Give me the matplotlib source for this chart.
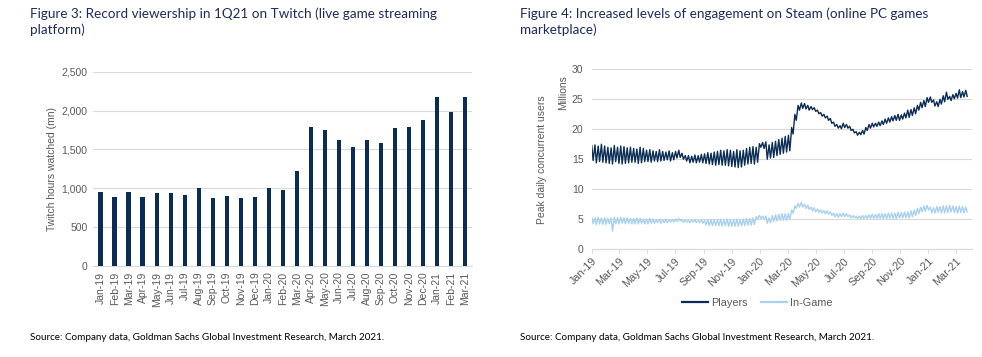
import matplotlib
matplotlib.use('Agg')
import matplotlib.pyplot as plt
import matplotlib.dates as mdates
import numpy as np
import pandas as pd


# Figure 3: Twitch hours watched (mn), monthly
months = ['Jan-19', 'Feb-19', 'Mar-19', 'Apr-19', 'May-19', 'Jun-19', 'Jul-19', 'Aug-19', 'Sep-19',
          'Oct-19', 'Nov-19', 'Dec-19', 'Jan-20', 'Feb-20', 'Mar-20', 'Apr-20', 'May-20', 'Jun-20',
          'Jul-20', 'Aug-20', 'Sep-20', 'Oct-20', 'Nov-20', 'Dec-20', 'Jan-21', 'Feb-21', 'Mar-21']
hours = [948, 883, 948, 892, 935, 935, 913, 999, 879, 900, 879, 883, 1008, 982, 1218,
         1788, 1754, 1625, 1527, 1617, 1582, 1771, 1788, 1874, 2170, 1977, 2178]

# Figure 4: Steam peak concurrent users (millions), weekly high / low
week_start = '2019-01-01'
players_hi = [17.3, 17.4, 17.2, 17.5, 17.2, 17.0, 16.9, 17.3, 17.0, 17.2, 17.1, 16.9, 17.0,
              16.8, 16.7, 17.0, 16.8, 16.5, 16.6, 16.4, 16.3, 16.6, 16.3, 16.2, 16.4, 16.1,
              16.3, 16.5, 16.0, 15.6, 15.6, 15.5, 15.7, 15.6, 15.8, 15.9, 16.1, 16.0, 16.2,
              16.3, 16.5, 16.4, 16.6, 16.5, 16.3, 16.6, 16.4, 16.5, 16.8, 17.0, 17.1, 17.0,
              17.6, 17.8, 17.9, 17.4, 17.8, 18.0, 18.3, 18.5, 18.8, 19.0, 20.3, 22.5, 24.0,
              24.4, 24.3, 24.0, 23.8, 23.6, 23.2, 22.8, 22.5, 22.2, 21.8, 21.2, 20.8, 20.6,
              21.0, 20.8, 20.5, 20.0, 19.6, 19.5, 19.8, 20.3, 20.8, 21.0, 21.0, 21.2, 21.4,
              21.7, 21.9, 22.1, 22.3, 22.5, 22.4, 22.7, 23.2, 23.3, 23.6, 24.0, 24.5, 24.8,
              25.3, 25.4, 24.9, 24.6, 25.0, 25.6, 26.2, 25.5, 25.8, 26.0, 26.6, 26.3, 26.5]
players_lo = [14.8, 14.4, 14.6, 14.5, 14.4, 14.3, 14.2, 14.6, 14.3, 14.2, 14.3, 14.4, 14.5,
              14.5, 14.3, 14.4, 14.6, 14.6, 14.5, 14.7, 14.6, 14.7, 14.8, 14.9, 14.7, 14.9,
              15.2, 15.3, 15.0, 14.7, 14.4, 14.5, 14.4, 14.5, 14.4, 14.3, 14.2, 14.1, 14.0,
              14.1, 14.0, 14.0, 13.9, 13.8, 13.7, 13.6, 13.7, 14.0, 14.2, 14.3, 14.2, 14.5,
              17.0, 16.8, 15.0, 15.2, 15.3, 15.6, 15.8, 16.0, 16.2, 16.4, 19.2, 21.5, 23.2,
              23.5, 23.4, 23.2, 23.3, 23.0, 22.6, 22.2, 21.9, 21.5, 21.0, 20.5, 20.2, 20.1,
              20.3, 20.2, 19.8, 19.4, 19.0, 19.1, 19.2, 19.8, 20.2, 20.4, 20.5, 20.6, 20.8,
              21.0, 21.2, 21.4, 21.5, 21.5, 21.7, 21.9, 22.0, 22.3, 22.6, 23.2, 23.6, 23.8,
              24.5, 24.5, 23.9, 23.8, 24.2, 24.6, 25.0, 24.8, 25.1, 25.2, 25.3, 25.4, 25.5]
ingame_hi = [5.3, 5.2, 5.3, 5.2, 5.2, 5.1, 5.2, 5.3, 5.2, 5.3, 5.2, 5.2, 5.1,
             5.1, 5.2, 5.1, 5.0, 5.0, 5.1, 5.0, 4.9, 5.0, 4.9, 5.0, 4.9, 4.9,
             5.0, 5.1, 4.9, 4.8, 4.8, 4.8, 4.9, 4.8, 4.9, 4.8, 4.9, 4.9, 4.9,
             4.9, 5.0, 4.9, 5.0, 4.9, 4.9, 5.0, 4.9, 5.0, 5.1, 5.1, 5.2, 5.4,
             5.6, 5.5, 5.5, 5.2, 5.6, 5.7, 5.8, 5.9, 5.9, 5.9, 6.5, 7.2, 7.6,
             7.8, 7.5, 7.3, 7.0, 6.9, 6.7, 6.5, 6.4, 6.4, 6.2, 6.0, 5.9, 5.9,
             6.0, 5.9, 5.7, 5.6, 5.5, 5.5, 5.6, 5.6, 5.7, 5.8, 5.8, 5.9, 5.9,
             5.9, 6.0, 6.0, 6.0, 6.1, 6.1, 6.2, 6.2, 6.4, 6.5, 6.8, 7.0, 7.2,
             7.3, 7.0, 6.9, 7.1, 7.1, 7.2, 7.2, 7.3, 7.2, 7.1, 7.2, 7.1, 7.0]
ingame_lo = [4.2, 4.1, 4.2, 4.1, 4.1, 4.2, 3.0, 4.2, 4.2, 4.3, 4.2, 4.3, 4.2,
             4.2, 4.2, 4.3, 4.2, 4.2, 4.3, 4.3, 4.4, 4.3, 4.4, 4.4, 4.5, 4.5,
             4.6, 4.7, 4.5, 4.5, 4.4, 4.5, 4.4, 4.4, 4.3, 4.0, 3.9, 3.9, 3.9,
             3.9, 3.8, 3.9, 3.8, 3.8, 3.8, 3.8, 3.9, 3.9, 4.0, 4.0, 4.1, 5.0,
             5.1, 5.0, 4.3, 4.4, 4.6, 4.7, 4.8, 4.8, 4.8, 4.9, 6.0, 6.8, 7.0,
             7.0, 6.8, 6.6, 6.4, 6.2, 6.1, 6.0, 5.9, 5.8, 5.6, 5.4, 5.3, 5.4,
             5.4, 5.4, 5.2, 5.2, 5.1, 5.1, 5.1, 5.1, 5.1, 5.1, 5.1, 5.1, 5.1,
             5.1, 5.1, 5.1, 5.1, 5.2, 5.2, 5.2, 5.2, 5.4, 5.6, 5.9, 6.2, 6.3,
             6.5, 6.0, 6.0, 6.1, 6.0, 6.0, 6.1, 6.2, 6.1, 6.0, 6.1, 6.0, 6.2]

NAVY = '#0b2d55'
LIGHT = '#a8d1f0'
GRID = '#d9d9d9'
TICK = '#595959'
TITLE = '#1f2a5c'


def zigzag(hi, lo):
    '''interleave weekly highs (weekend) and lows (midweek) on a daily date axis'''
    weeks = pd.date_range(week_start, periods=len(hi), freq='7D')
    x = np.empty(2 * len(hi), dtype='datetime64[ns]')
    y = np.empty(2 * len(hi))
    x[0::2] = weeks.values
    x[1::2] = (weeks + pd.Timedelta(days=3)).values
    y[0::2] = hi
    y[1::2] = lo
    return x, y


fig = plt.figure(figsize=(9.82, 3.57), dpi=100)
plt.rcParams['font.family'] = ['Liberation Sans', 'DejaVu Sans']

# ---- left: Twitch bars
ax1 = fig.add_axes([0.0947, 0.2549, 0.386, 0.544])
pos = np.arange(len(hours))
ax1.bar(pos, hours, width=0.32, color=NAVY, zorder=3)
ax1.set_xlim(-0.55, len(hours) - 0.5)
ax1.set_ylim(0, 2500)
ax1.set_yticks(range(0, 2501, 500))
ax1.set_yticklabels([f'{v:,}' for v in range(0, 2501, 500)])
ax1.set_xticks(pos)
ax1.set_xticklabels(months, rotation=90)
ax1.grid(axis='y', color=GRID, lw=0.8, zorder=0)
for s in ['top', 'right', 'left']:
    ax1.spines[s].set_visible(False)
ax1.spines['bottom'].set_color(GRID)
ax1.tick_params(axis='both', length=0, labelsize=7.5, labelcolor=TICK, pad=4)
ax1.set_ylabel('Twitch hours watched (mn)', fontsize=7.5, color=TICK, labelpad=3)

# ---- right: Steam lines
ax2 = fig.add_axes([0.6026, 0.3025, 0.387, 0.503])
px, py = zigzag(players_hi, players_lo)
gx, gy = zigzag(ingame_hi, ingame_lo)
ax2.plot(px, py, color=NAVY, lw=1.0, label='Players', zorder=3)
ax2.plot(gx, gy, color=LIGHT, lw=1.0, label='In-Game', zorder=3)
ax2.set_xlim(pd.Timestamp('2019-01-01'), pd.Timestamp('2021-04-05'))
ax2.set_ylim(0, 30)
ax2.set_yticks(range(0, 31, 5))
ax2.xaxis.set_major_locator(mdates.MonthLocator(bymonth=[1, 3, 5, 7, 9, 11]))
ax2.xaxis.set_major_formatter(mdates.DateFormatter('%b-%y'))
for lab in ax2.get_xticklabels():
    lab.set_rotation(45)
    lab.set_ha('right')
    lab.set_rotation_mode('anchor')
ax2.grid(axis='y', color=GRID, lw=0.8, zorder=0)
for s in ['top', 'right', 'left']:
    ax2.spines[s].set_visible(False)
ax2.spines['bottom'].set_color(GRID)
ax2.tick_params(axis='y', length=0, labelsize=7.5, labelcolor=TICK, pad=6)
ax2.tick_params(axis='x', length=3, color=GRID, labelsize=7.8, labelcolor=TICK, pad=2)
ax2.set_ylabel('Peak daily concurrent users', fontsize=7.5, color=TICK, labelpad=18)
fig.text(0.573, 0.74, 'Millions', rotation=90, ha='center', va='center', fontsize=7.5, color=TICK)
leg = fig.legend(loc='center', bbox_to_anchor=(0.771, 0.151), ncol=2, frameon=False,
                 fontsize=7.8, labelcolor=TICK, handlelength=2.4, handletextpad=0.3,
                 columnspacing=1.2)
for h in leg.get_lines():
    h.set_linewidth(1.6)

# ---- titles and sources
fig.text(0.031, 0.98, 'Figure 3: Record viewership in 1Q21 on Twitch (live game streaming\nplatform)',
         ha='left', va='top', fontsize=9.7, color=TITLE, family='Lato', linespacing=1.35)
fig.text(0.530, 0.98, 'Figure 4: Increased levels of engagement on Steam (online PC games\nmarketplace)',
         ha='left', va='top', fontsize=9.7, color=TITLE, family='Lato', linespacing=1.35)
src = 'Source: Company data, Goldman Sachs Global Investment Research, March 2021.'
fig.text(0.031, 0.056, src, ha='left', va='center', fontsize=7.1, color='black', family='Lato')
fig.text(0.530, 0.056, src, ha='left', va='center', fontsize=7.1, color='black', family='Lato')

plt.savefig('out.png', dpi=100)
